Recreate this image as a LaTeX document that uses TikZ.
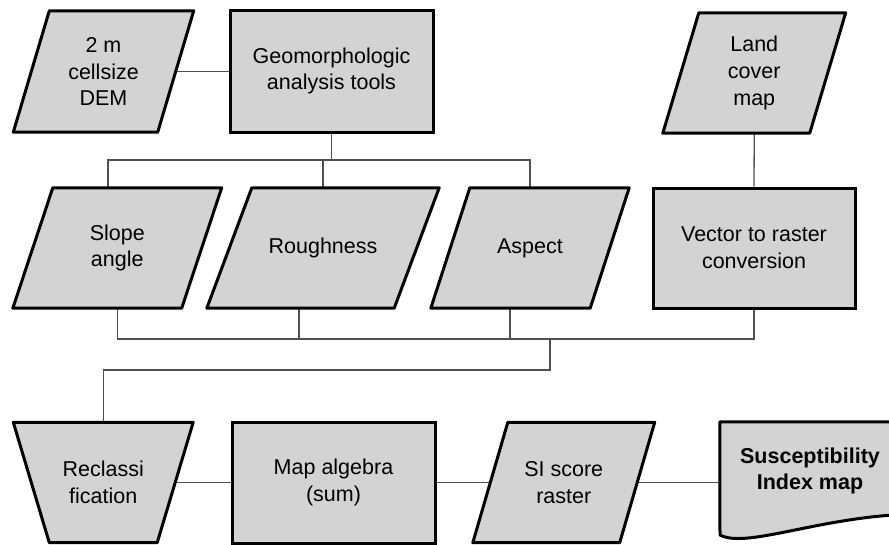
\documentclass[tikz,border=0pt]{standalone}
\usepackage{fontspec}
\setmainfont{Liberation Sans}
\usetikzlibrary{calc}
\definecolor{boxfill}{HTML}{D3D3D3}
\definecolor{conncol}{HTML}{505050}
\pgfdeclarelayer{connlayer}
\pgfdeclarelayer{shplayer}
\pgfsetlayers{connlayer,shplayer,main}
\tikzset{
  lbl/.style={inner sep=0pt, align=center, font=\fontsize{21.5}{26.7}\selectfont, text=black},
  rectbox/.style={lbl, draw=black, fill=boxfill, line width=3pt},
  shapeline/.style={draw=black, fill=boxfill, line width=3pt, line join=round},
  conn/.style={draw=conncol, line width=1.3pt},
}
\newcommand{\paragram}[2]{\draw[shapeline] ($(#1.north west)+(#2,0)$) -- ($(#1.north east)+(#2,0)$) -- ($(#1.south east)-(#2,0)$) -- ($(#1.south west)-(#2,0)$) -- cycle;}
\begin{document}
\begin{tikzpicture}[x=1pt,y=-1pt]
\useasboundingbox (0,0) rectangle (889,544);
% nodes
\node[lbl, minimum width=144pt, minimum height=121pt] (dem) at (103.5,71.5) {2 m\\cellsize\\DEM};
\node[rectbox, minimum width=203pt, minimum height=122pt] (geo) at (331.5,71) {Geomorphologic\\analysis tools};
\node[lbl, minimum width=146.5pt, minimum height=120pt] (land) at (754.25,73) {Land\\cover\\map};
\node[lbl, minimum width=168.5pt, minimum height=120pt] (slope) at (117.25,248) {Slope\\angle};
\node[lbl, minimum width=187pt, minimum height=120pt] (rough) at (323,248) {Roughness};
\node[lbl, minimum width=159pt, minimum height=120pt] (aspect) at (530,248) {Aspect};
\node[rectbox, minimum width=202pt, minimum height=120pt] (vec) at (754,248) {Vector to raster\\conversion};
\node[lbl, minimum width=143.5pt, minimum height=120pt] (reclass) at (103.25,482.5) {Reclassi\\fication};
\node[rectbox, minimum width=203pt, minimum height=121pt] (map) at (333.5,482.5) {Map algebra\\(sum)};
\node[lbl, minimum width=146.5pt, minimum height=120pt] (si) at (563.75,482.5) {SI score\\raster};
\node[lbl, minimum width=180pt, minimum height=98pt, font=\fontsize{21.5}{26.7}\selectfont\bfseries] (doc) at (810,471) {Susceptibility\\Index map};
% shapes
\begin{pgfonlayer}{shplayer}
\paragram{dem}{18}
\paragram{land}{18}
\paragram{slope}{20}
\paragram{rough}{22.5}
\paragram{aspect}{19.5}
\paragram{si}{17.5}
\draw[shapeline] ($(reclass.north west)-(18,0)$) -- ($(reclass.north east)+(18,0)$) -- ($(reclass.south east)-(18,0)$) -- ($(reclass.south west)+(18,0)$) -- cycle;
\draw[shapeline] (doc.north west) -- (930,422) -- (930,514) .. controls (830,512) and (748,550) .. (720,535) -- cycle;
\end{pgfonlayer}
% connectors
\begin{pgfonlayer}{connlayer}
\coordinate (j1) at (331.5,160);
\coordinate (j2) at (550,339);
\coordinate (st) at ([xshift=-9.25pt]slope.north);
\coordinate (rs) at ([xshift=-24pt]rough.south);
\coordinate (as) at ([xshift=-20pt]aspect.south);
\draw[conn] (dem.east) -- (dem.east -| geo.west);
\draw[conn] (geo.south) -- (j1);
\draw[conn] (st) |- (j1) -| (aspect.north);
\draw[conn] (rough.north) -- (rough.north |- j1);
\draw[conn] (land.south) -- (vec.north);
\draw[conn] (slope.south) |- (j2) -| (vec.south);
\draw[conn] (rs) -- (rs |- j2);
\draw[conn] (as) -- (as |- j2);
\draw[conn] (j2) -- ++(0,31) -| (reclass.north);
\draw[conn] (reclass.east) -- (map.west);
\draw[conn] (map.east) -- (si.west);
\draw[conn] (si.east) -- (si.east -| doc.west);
\end{pgfonlayer}
\end{tikzpicture}
\end{document}
